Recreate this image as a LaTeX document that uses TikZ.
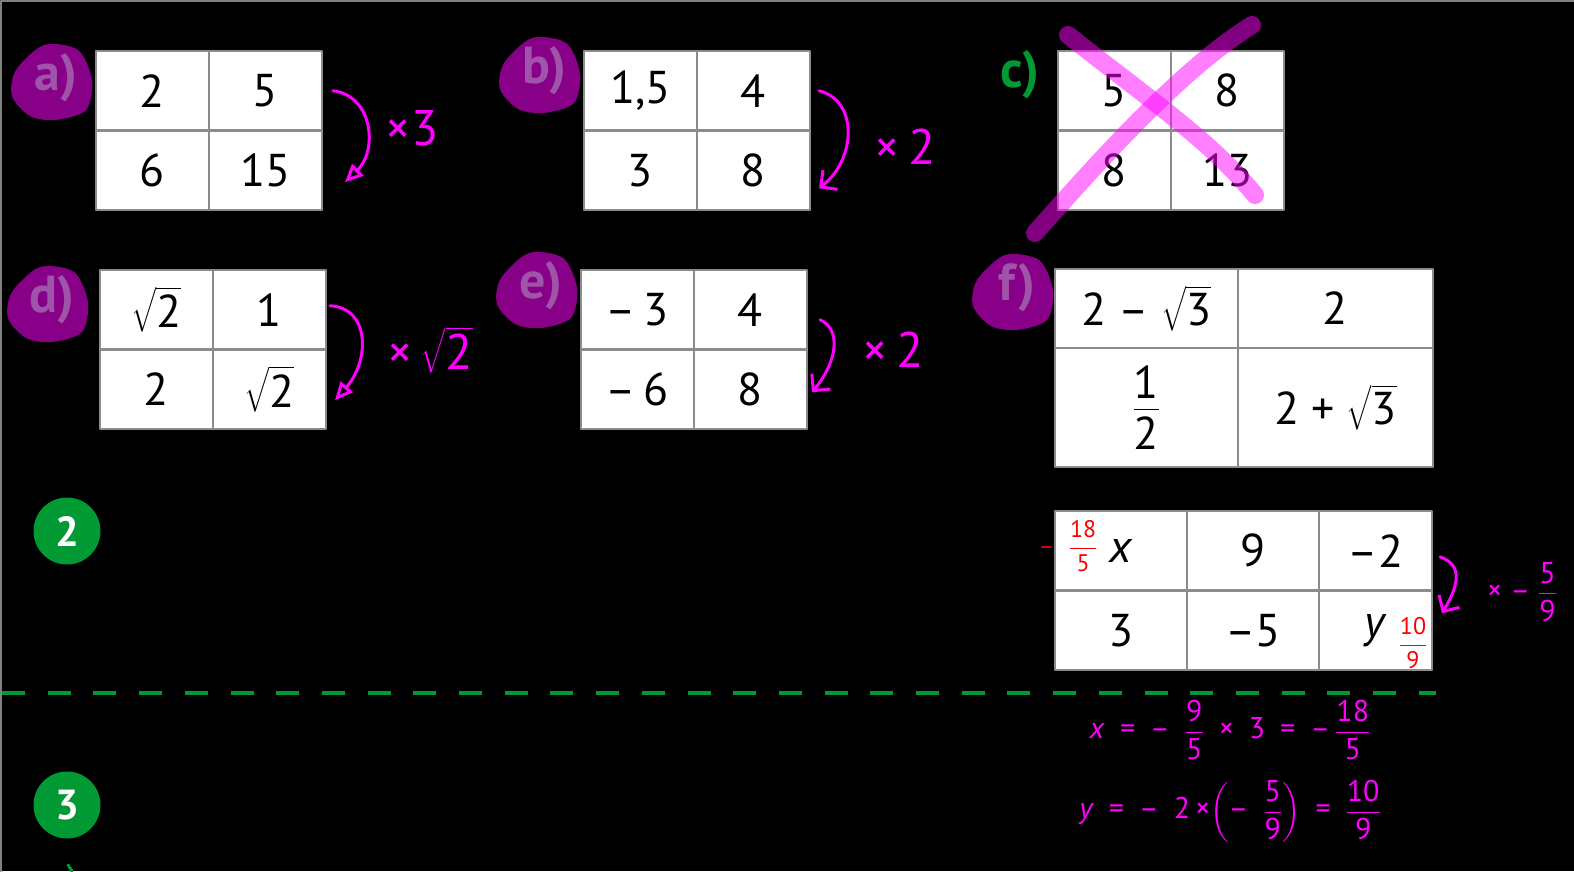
\documentclass[tikz,border=0pt]{standalone}
\usepackage{amsmath}
\usepackage{fontspec}
\setmainfont{PT Sans}
\usetikzlibrary{positioning,arrows.meta}
\definecolor{tabgray}{RGB}{140,140,140}
\definecolor{blobpurple}{RGB}{136,0,136}
\definecolor{labpurple}{RGB}{158,84,168}
\definecolor{exgreen}{RGB}{0,153,51}
\definecolor{penmag}{RGB}{255,0,255}
\definecolor{redpen}{RGB}{255,0,0}
\begin{document}
\begin{tikzpicture}[x=1pt,y=-1pt,line cap=round,line join=round,>={Straight Barb[length=12pt,width=24pt]}]
	\tikzset{cell/.style={draw=tabgray,line width=2.5,fill=white,inner sep=0,outer sep=0,
			minimum width=113,minimum height=79.5,font=\fontsize{46}{50}\selectfont},
		pen/.style={draw=penmag,line width=3},
		hand/.style={text=penmag,inner sep=0,font=\fontsize{50}{54}\selectfont},
		redhand/.style={text=redpen,inner sep=0,font=\fontsize{24}{26}\selectfont},
		blob/.style={fill=blobpurple},
		lab/.style={text=labpurple,inner sep=0,font=\fontsize{52}{56}\selectfont\bfseries},
		numdisc/.style={circle,fill=exgreen,text=white,minimum size=67,inner sep=0,font=\fontsize{42}{46}\selectfont\bfseries},
		cross/.style={draw=penmag,opacity=0.5,line width=18}}
	\def\rt#1{\(\sqrt{\mbox{#1}}\)} % square root, text digits
	\def\frm#1#2{\dfrac{\mbox{#1}\rule[-0.1em]{0pt}{0pt}}{\rule{0pt}{0.8em}\mbox{#2}}} % fraction, text digits
	\def\fr#1#2{\(\frm{#1}{#2}\)}
	\def\sp{\enspace}
	\useasboundingbox (0,0) rectangle (1574,871);
	\fill[black] (0,0) rectangle (1574,871);
	\draw[gray,line width=2] (1,871) -- (1,1) -- (1574,1);
	%--------- purple blobs and labels
	\foreach \n/\x/\y in {a/52/82,b/540/75,d/48/304,e/537/290,f/1013/292}{
		\fill[blob] plot[smooth cycle] coordinates {({\x-36},{\y-12}) ({\x-8},{\y-37}) ({\x+26},{\y-32}) ({\x+40},{\y-2}) ({\x+34},{\y+28}) ({\x+4},{\y+38}) ({\x-22},{\y+34}) ({\x-40},{\y+14})};
		\node[lab] (lab\n) at (\x+4,\y-4) {\n)};
	}
	\node[lab,text=exgreen] (labc) at (1020,75) {c)};
	%--------- 2x2 tables
	\foreach \n/\x/\y/\p/\q/\r/\s in {a/96/51/2/5/6/15, b/584/51/1{,}5/4/3/8, c/1058/51/5/8/8/13, d/100/270/\rt{2}/1/2/\rt{2}, e/581/270/–\,3/4/–\,6/8}{
		\node[cell,anchor=north west] (\n11) at (\x,\y) {\p};
		\node[cell,anchor=west] (\n12) at (\n11.east) {\q};
		\node[cell,anchor=north] (\n21) at (\n11.south) {\r};
		\node[cell,anchor=north] (\n22) at (\n12.south) {\s};
	}
	\node[cell,anchor=north west,minimum width=183,minimum height=79] (f11) at (1055,269) {2 – \rt{3}};
	\node[cell,anchor=west,minimum width=195,minimum height=79] (f12) at (f11.east) {2};
	\node[cell,anchor=north,minimum width=183,minimum height=119] (f21) at (f11.south) {\fr{1}{2}};
	\node[cell,anchor=north,minimum width=195,minimum height=119] (f22) at (f12.south) {2 + \rt{3}};
	%--------- exercise 2 table
	\node[cell,anchor=north west,minimum width=132] (g11) at (1055,511) {\textit{x}};
	\node[cell,anchor=west,minimum width=132] (g12) at (g11.east) {9};
	\node[cell,anchor=west] (g13) at (g12.east) {–2};
	\node[cell,anchor=north,minimum width=132] (g21) at (g11.south) {3};
	\node[cell,anchor=north,minimum width=132] (g22) at (g12.south) {–5};
	\node[cell,anchor=north] (g23) at (g13.south) {\textit{y}};
	\node[redhand] (gx) at (1068,546) {–\hspace{0.6em}\fr{18}{5}};
	\node[redhand] (gy) at (1413,643) {\fr{10}{9}};
	%--------- crossed out
	\draw[cross] (1068,35) .. controls (1150,100) and (1210,140) .. (1255,195);
	\draw[cross] (1252,25) .. controls (1180,70) and (1100,160) .. (1035,233);
	%--------- factors
	\draw[pen,-{Triangle[open,length=18pt,width=16pt]}] ([xshift=11]a12.east) .. controls +(40,5) and +(33,-32) .. ([shift={(23,12)}]a22.east);
	\draw[pen,->] ([xshift=9]b12.east) .. controls +(40,10) and +(37,-28) .. ([shift={(9,18)}]b22.east);
	\draw[pen,-{Triangle[open,length=18pt,width=16pt]}] ([shift={(4,-4)}]d12.east) .. controls +(40,2) and +(35,-40) .. ([shift={(9,11)}]d22.east);
	\draw[pen,->] ([shift={(13,10)}]e12.east) .. controls +(22,10) and +(25,-30) .. ([shift={(5,3)}]e22.east);
	\draw[pen,->] ([shift={(8,6)}]g13.east) .. controls +(22,8) and +(18,-30) .. ([shift={(10,-17)}]g23.east);
	\node[hand] (ka) at (412,128) {×3};
	\node[hand] (kb) at (905,147) {×\,2};
	\node[hand] (kd) at (430,350) {×\,\rt{2}};
	\node[hand] (ke) at (893,350) {×\,2};
	\node[hand,font=\fontsize{30}{32}\selectfont] (kg) at (1522,592) {× – \fr{5}{9}};
	%--------- working
	\node[hand,font=\fontsize{30}{34}\selectfont] (calx) at (1230,730) {\textit{x}\sp=\sp–\sp\fr{9}{5}\sp×\sp3\sp=\sp–\,\fr{18}{5}};
	\node[hand,font=\fontsize{30}{34}\selectfont] (caly) at (1230,811) {\textit{y}\sp=\sp–\sp2\,×\(\left(\mbox{–\sp}\frm{5}{9}\right)\)\sp=\sp\fr{10}{9}};
	%--------- exercise numbers
	\node[numdisc] (ex2) at (67,531) {2};
	\node[numdisc] (ex3) at (67,805) {3};
	\draw[exgreen,line width=4,line cap=butt,dash pattern=on 23 off 22.7] (2,693) -- (1436,693);
	\draw[exgreen,line width=3] (68,865) -- (72,871);
\end{tikzpicture}
\end{document}
